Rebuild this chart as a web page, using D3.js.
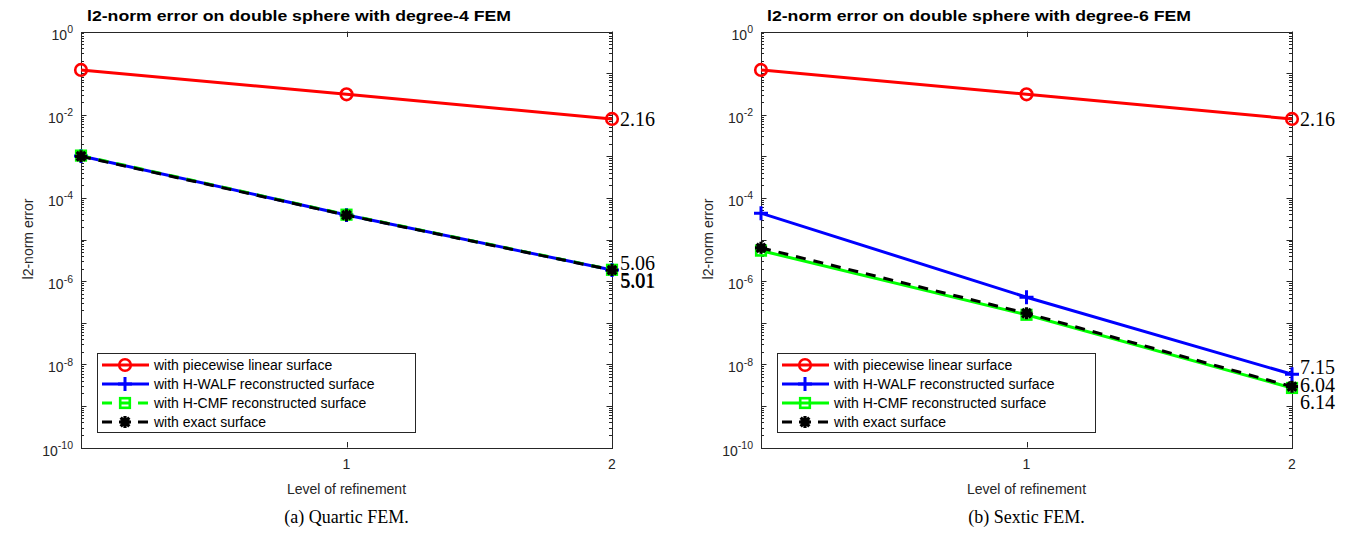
<!DOCTYPE html>
<html>
<head>
<meta charset="utf-8">
<script src="https://cdn.jsdelivr.net/npm/d3@7"></script>
<style>
  html, body { margin: 0; padding: 0; background: #fff; }
  svg { display: block; }
</style>
</head>
<body>
<svg id="fig" width="1352" height="536"></svg>
<script>
// Refinement levels and l2-norm errors (log scale)
const levels = [0, 1, 2];

// degree-4 FEM
const quarticLinear = [0.119, 0.0309, 0.0079];
const quarticWalf   = [1.02e-3, 3.9e-5, 1.85e-6];
const quarticCmf    = [1.04e-3, 3.95e-5, 1.87e-6];
const quarticExact  = [1.0e-3, 3.85e-5, 1.84e-6];
const quarticRates  = ["2.16", "5.06", "5.01", "5.01"];

// degree-6 FEM
const sexticLinear = [0.119, 0.0309, 0.0079];
const sexticWalf   = [4.3e-5, 4.1e-7, 5.75e-9];
const sexticCmf    = [5.4e-6, 1.55e-7, 2.7e-9];
const sexticExact  = [6.3e-6, 1.69e-7, 2.9e-9];
const sexticRates  = ["2.16", "7.15", "6.14", "6.04"];

const seriesNames = [
  "with piecewise linear surface",
  "with H-WALF reconstructed surface",
  "with H-CMF reconstructed surface",
  "with exact surface"
];
const yTickExponents = [0, -2, -4, -6, -8, -10];
const xTickValues = [1, 2];

const svg = d3.select("#fig");
const sans = "'Liberation Sans', Arial, Helvetica, sans-serif";
const serif = "'Liberation Serif', 'Times New Roman', serif";
const axisColor = "#262626";

// marker shapes
function drawMarker(g, kind, x, y, color) {
  if (kind === "circle") {
    g.append("circle").attr("cx", x).attr("cy", y).attr("r", 5.8)
      .attr("fill", "none").attr("stroke", color).attr("stroke-width", 2.6);
  } else if (kind === "plus") {
    const s = 7;
    g.append("path").attr("d", `M${x - s},${y}H${x + s}M${x},${y - s}V${y + s}`)
      .attr("stroke", color).attr("stroke-width", 3).attr("fill", "none");
  } else if (kind === "square") {
    const s = 4.8;
    g.append("rect").attr("x", x - s).attr("y", y - s).attr("width", 2 * s).attr("height", 2 * s)
      .attr("fill", "none").attr("stroke", color).attr("stroke-width", 2.6);
  } else if (kind === "star") {
    const s = 6, d = s * 0.72;
    g.append("path")
      .attr("d", `M${x - s},${y}H${x + s}M${x},${y - s}V${y + s}M${x - d},${y - d}L${x + d},${y + d}M${x - d},${y + d}L${x + d},${y - d}`)
      .attr("stroke", color).attr("stroke-width", 3.2).attr("fill", "none");
  }
}

function drawPanel(opt) {
  const x = d3.scaleLinear().domain([0, 2]).range([opt.left, opt.left + 531]);
  const y = d3.scaleLog().domain([1e-10, 1]).range([447.5, 31.5]);
  const g = svg.append("g");
  const x0 = x.range()[0], x1 = x.range()[1];
  const y0 = y.range()[1], y1 = y.range()[0];

  // log ticks, inward on both vertical sides
  const ticks = g.append("g").attr("stroke", axisColor).attr("stroke-width", 1);
  for (let k = -10; k <= 0; k++) {
    const yy = Math.round(y(Math.pow(10, k))) + 0.5;
    ticks.append("line").attr("x1", x0).attr("x2", x0 + 5.5).attr("y1", yy).attr("y2", yy);
    ticks.append("line").attr("x1", x1).attr("x2", x1 - 5.5).attr("y1", yy).attr("y2", yy);
    if (k < 0) {
      for (let m = 2; m <= 9; m++) {
        const ym = Math.round(y(m * Math.pow(10, k))) + 0.5;
        ticks.append("line").attr("x1", x0).attr("x2", x0 + 3).attr("y1", ym).attr("y2", ym);
        ticks.append("line").attr("x1", x1).attr("x2", x1 - 3).attr("y1", ym).attr("y2", ym);
      }
    }
  }
  xTickValues.forEach(v => {
    const xx = Math.round(x(v)) + 0.5;
    ticks.append("line").attr("x1", xx).attr("x2", xx).attr("y1", y1).attr("y2", y1 - 5.5);
    ticks.append("line").attr("x1", xx).attr("x2", xx).attr("y1", y0).attr("y2", y0 + 5.5);
  });

  // axes box
  g.append("rect").attr("x", Math.round(x0) + 0.5).attr("y", Math.round(y0) + 0.5)
    .attr("width", Math.round(x1) - Math.round(x0)).attr("height", Math.round(y1) - Math.round(y0))
    .attr("fill", "none").attr("stroke", axisColor).attr("stroke-width", 1);

  // y tick labels 10^k
  yTickExponents.forEach(e => {
    const yy = y(Math.pow(10, e));
    const t = g.append("text").attr("x", x0 - 8).attr("y", yy + 8)
      .attr("text-anchor", "end").attr("font-family", sans).attr("font-size", 14)
      .attr("fill", axisColor);
    t.append("tspan").text("10");
    t.append("tspan").attr("dy", -6.5).attr("font-size", 10.5).text(String(e).replace("-", "-"));
  });

  // x tick labels
  xTickValues.forEach(v => {
    g.append("text").attr("x", x(v)).attr("y", 469).attr("text-anchor", "middle")
      .attr("font-family", sans).attr("font-size", 14).attr("fill", axisColor).text(v);
  });

  // axis labels and title
  g.append("text").attr("x", (x0 + x1) / 2).attr("y", 494).attr("text-anchor", "middle")
    .attr("font-family", sans).attr("font-size", 14).attr("fill", axisColor).text("Level of refinement");
  g.append("text").attr("transform", `translate(${x0 - 48},239) rotate(-90)`)
    .attr("text-anchor", "middle").attr("font-family", sans).attr("font-size", 14)
    .attr("fill", axisColor).text("l2-norm error");
  g.append("text").attr("x", x0 + 6).attr("y", 21).attr("font-family", sans)
    .attr("font-weight", "bold").attr("font-size", 15).attr("fill", "#000")
    .attr("textLength", 424).attr("lengthAdjust", "spacingAndGlyphs").text(opt.title);

  // caption
  g.append("text").attr("x", (x0 + x1) / 2).attr("y", 523).attr("text-anchor", "middle")
    .attr("font-family", serif).attr("font-size", 18).attr("fill", "#000").text(opt.caption);

  // data lines
  const line = d3.line().x((d, i) => x(levels[i])).y(d => y(d));
  const clip = g.append("g");
  opt.series.forEach(s => {
    clip.append("path").datum(s.values).attr("d", line).attr("fill", "none")
      .attr("stroke", s.color).attr("stroke-width", 3)
      .attr("stroke-dasharray", s.dash || null);
    s.values.forEach((v, i) => drawMarker(clip, s.marker, x(levels[i]), y(v), s.color));
  });

  // convergence rates next to the finest level
  opt.series.forEach((s, i) => {
    const v = s.values[s.values.length - 1];
    g.append("text").attr("x", x(2) + 8 + (s.rateDx || 0)).attr("y", y(v) + s.rateDy)
      .attr("font-family", serif).attr("font-size", 20).attr("fill", "#000").text(opt.rates[i]);
  });

  // legend
  const lx = x0 + 16, ly = 353.5, lw = 318, lh = 79;
  const lg = g.append("g");
  lg.append("rect").attr("x", Math.round(lx) + 0.5).attr("y", ly).attr("width", lw).attr("height", lh)
    .attr("fill", "#fff").attr("stroke", axisColor).attr("stroke-width", 1);
  opt.series.forEach((s, i) => {
    const ry = ly + 11.5 + i * 19;
    lg.append("line").attr("x1", lx + 5).attr("x2", lx + 52).attr("y1", ry).attr("y2", ry)
      .attr("stroke", s.color).attr("stroke-width", 3).attr("stroke-dasharray", s.dash || null);
    drawMarker(lg, s.marker, lx + 28, ry, s.color);
    lg.append("text").attr("x", lx + 57).attr("y", ry + 5).attr("font-family", sans)
      .attr("font-size", 14).attr("fill", "#000").text(seriesNames[i]);
  });
}

drawPanel({
  left: 81,
  title: "l2-norm error on double sphere with degree-4 FEM",
  caption: "(a) Quartic FEM.",
  rates: quarticRates,
  series: [
    { values: quarticLinear, color: "#ff0000", marker: "circle", rateDy: 7 },
    { values: quarticWalf,   color: "#0000ff", marker: "plus",   rateDy: 0 },
    { values: quarticCmf,    color: "#00ff00", marker: "square", dash: "10,8", rateDy: 17 },
    { values: quarticExact,  color: "#000000", marker: "star",   dash: "10,8", rateDy: 17.5, rateDx: 0.6 }
  ]
});

drawPanel({
  left: 761,
  title: "l2-norm error on double sphere with degree-6 FEM",
  caption: "(b) Sextic FEM.",
  rates: sexticRates,
  series: [
    { values: sexticLinear, color: "#ff0000", marker: "circle", rateDy: 7 },
    { values: sexticWalf,   color: "#0000ff", marker: "plus",   rateDy: 0 },
    { values: sexticCmf,    color: "#00ff00", marker: "square", rateDy: 21 },
    { values: sexticExact,  color: "#000000", marker: "star",   dash: "10,8", rateDy: 5.5 }
  ]
});
</script>
</body>
</html>
